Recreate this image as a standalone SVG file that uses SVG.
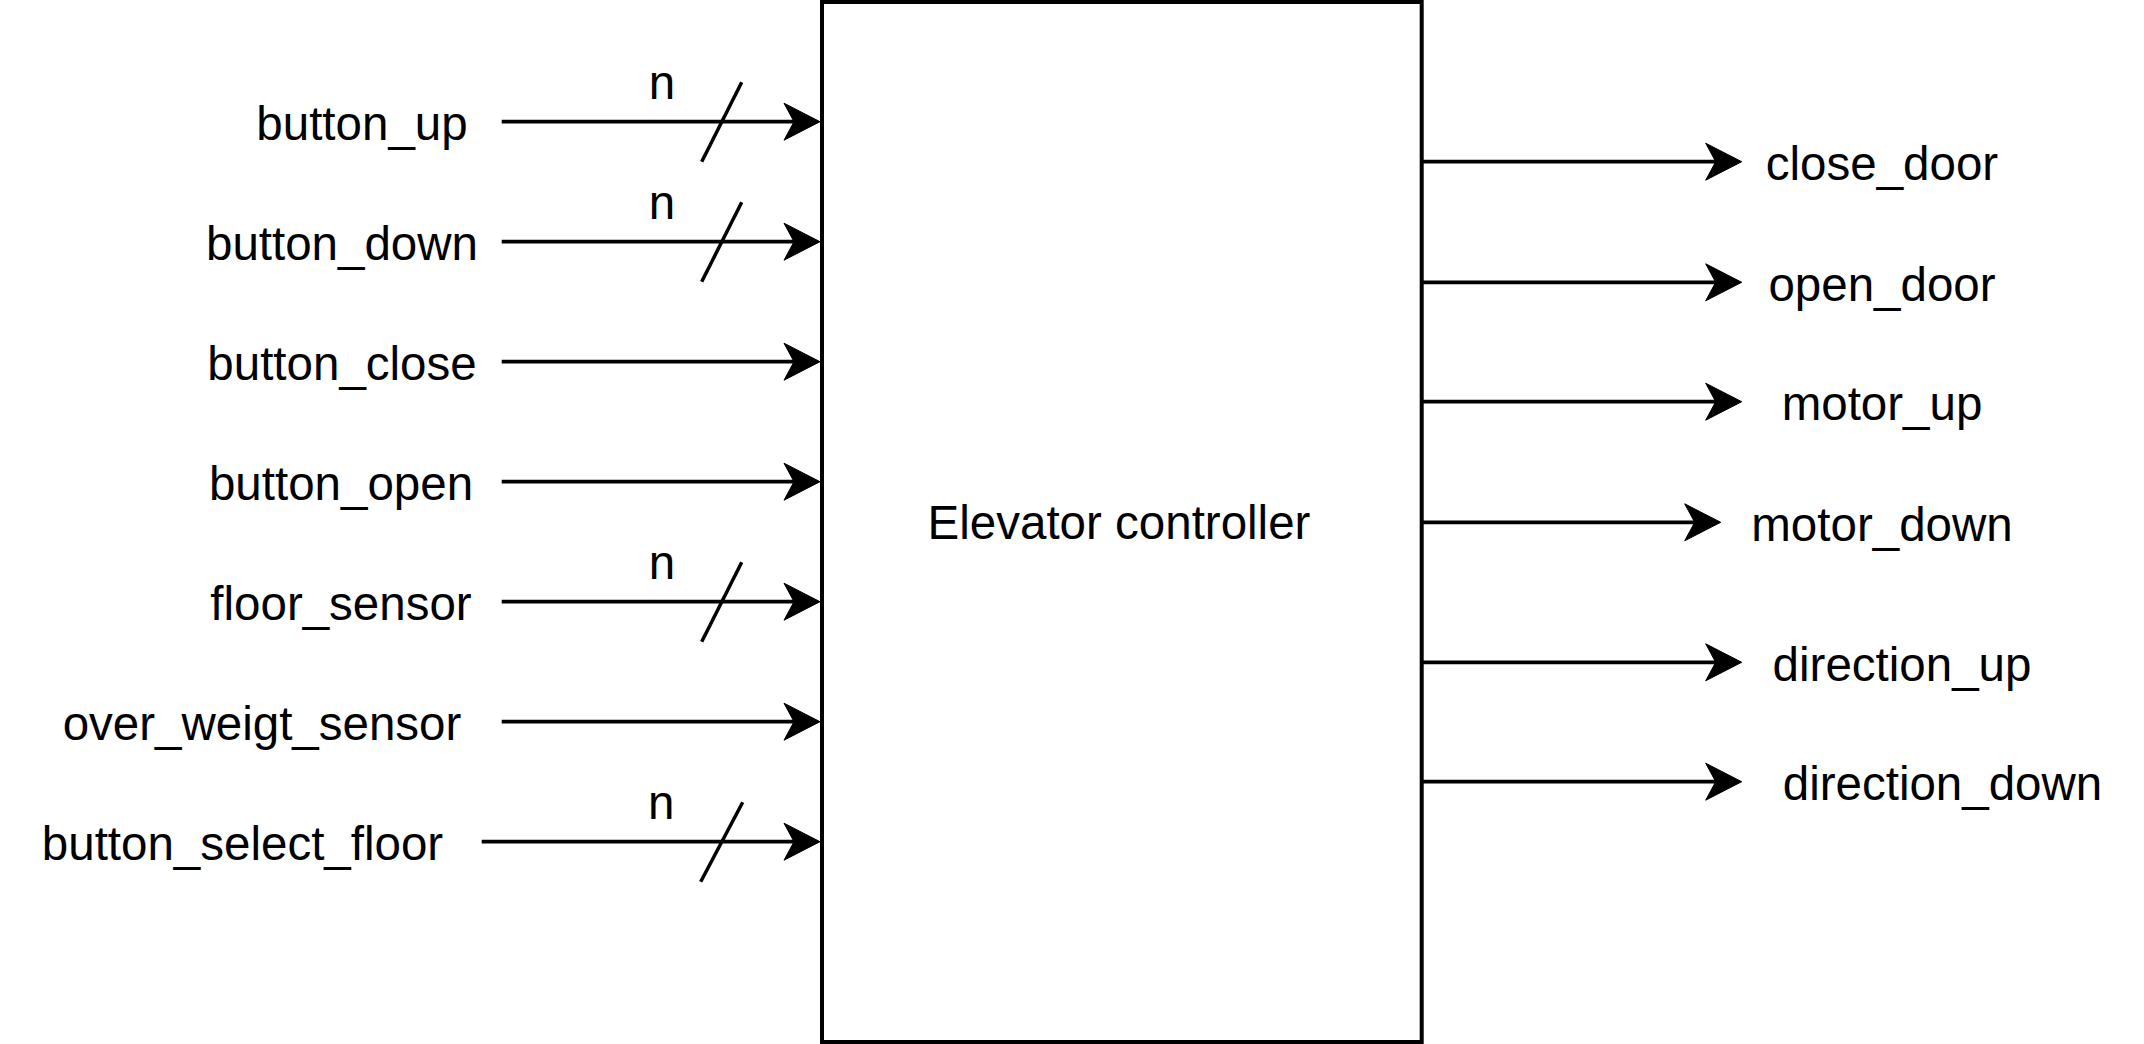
<svg xmlns="http://www.w3.org/2000/svg" width="2144" height="1044" viewBox="0 0 2144 1044">
<style>
  .lbl { font-family: "Liberation Sans", Arial, Helvetica, sans-serif; font-size: 47.5px; fill: #000; text-anchor: middle; }
  .wire { stroke: #000; stroke-width: 3.8; fill: none; }
  .slash { stroke: #000; stroke-width: 3.5; fill: none; }
  .box { stroke: #000; stroke-width: 4; fill: #fff; }
  .head { fill: #000; stroke: #000; stroke-width: 1; stroke-linejoin: miter; }
</style>
<defs>
  <path id="headR" class="head" d="M0,0 L-36,-18.5 L-26,0 L-36,18.5 Z"/>
</defs>
<rect width="2144" height="1044" fill="#fff"/>

<g id="controller">
  <rect class="box" x="822" y="2" width="599.7" height="1040"/>
  <text class="lbl" x="1119" y="539.3">Elevator controller</text>
</g>

<g id="inputs">
  <g id="in-button_up"><text class="lbl" x="362" y="139.5">button_up</text></g>
  <g id="in-button_down"><text class="lbl" x="342" y="259.5">button_down</text></g>
  <g id="in-button_close"><text class="lbl" x="342" y="379.5">button_close</text></g>
  <g id="in-button_open"><text class="lbl" x="341" y="499.5">button_open</text></g>
  <g id="in-floor_sensor"><text class="lbl" x="341" y="619.5">floor_sensor</text></g>
  <g id="in-over_weigt_sensor"><text class="lbl" x="262" y="739.5">over_weigt_sensor</text></g>
  <g id="in-button_select_floor"><text class="lbl" x="242.5" y="859.5">button_select_floor</text></g>
</g>

<g id="outputs">
  <g id="out-close_door"><text class="lbl" x="1882" y="180">close_door</text></g>
  <g id="out-open_door"><text class="lbl" x="1882" y="300.5">open_door</text></g>
  <g id="out-motor_up"><text class="lbl" x="1882" y="420">motor_up</text></g>
  <g id="out-motor_down"><text class="lbl" x="1882" y="540.5">motor_down</text></g>
  <g id="out-direction_up"><text class="lbl" x="1902" y="680.5">direction_up</text></g>
  <g id="out-direction_down"><text class="lbl" x="1942.5" y="800">direction_down</text></g>
</g>

<g id="connectors">
  <line class="wire" x1="501.7" y1="121.7" x2="796" y2="121.7"/>
  <use href="#headR" x="820" y="121.7"/>
  <line class="wire" x1="501.7" y1="241.7" x2="796" y2="241.7"/>
  <use href="#headR" x="820" y="241.7"/>
  <line class="wire" x1="501.7" y1="361.7" x2="796" y2="361.7"/>
  <use href="#headR" x="820" y="361.7"/>
  <line class="wire" x1="501.7" y1="481.7" x2="796" y2="481.7"/>
  <use href="#headR" x="820" y="481.7"/>
  <line class="wire" x1="501.7" y1="601.7" x2="796" y2="601.7"/>
  <use href="#headR" x="820" y="601.7"/>
  <line class="wire" x1="501.7" y1="721.7" x2="796" y2="721.7"/>
  <use href="#headR" x="820" y="721.7"/>
  <line class="wire" x1="481.7" y1="841.7" x2="796" y2="841.7"/>
  <use href="#headR" x="820" y="841.7"/>

  <line class="wire" x1="1422" y1="161.7" x2="1717.7" y2="161.7"/>
  <use href="#headR" x="1741.7" y="161.7"/>
  <line class="wire" x1="1422" y1="282.3" x2="1717.7" y2="282.3"/>
  <use href="#headR" x="1741.7" y="282.3"/>
  <line class="wire" x1="1422" y1="401.7" x2="1717.7" y2="401.7"/>
  <use href="#headR" x="1741.7" y="401.7"/>
  <line class="wire" x1="1422" y1="522.3" x2="1696.7" y2="522.3"/>
  <use href="#headR" x="1720.7" y="522.3"/>
  <line class="wire" x1="1422" y1="662.3" x2="1717.7" y2="662.3"/>
  <use href="#headR" x="1741.7" y="662.3"/>
  <line class="wire" x1="1422" y1="781.7" x2="1717.7" y2="781.7"/>
  <use href="#headR" x="1741.7" y="781.7"/>

  <g id="bus-marks">
    <line class="slash" x1="701.7" y1="161.7" x2="741.7" y2="82.3"/>
    <text class="lbl" x="662" y="99.3">n</text>
    <line class="slash" x1="701.7" y1="281.7" x2="741.7" y2="202.3"/>
    <text class="lbl" x="662" y="219.3">n</text>
    <line class="slash" x1="701.7" y1="641.7" x2="741.7" y2="562.3"/>
    <text class="lbl" x="662" y="579.3">n</text>
    <line class="slash" x1="700.7" y1="881.7" x2="742.7" y2="802.3"/>
    <text class="lbl" x="661.2" y="819.3">n</text>
  </g>
</g>
</svg>
